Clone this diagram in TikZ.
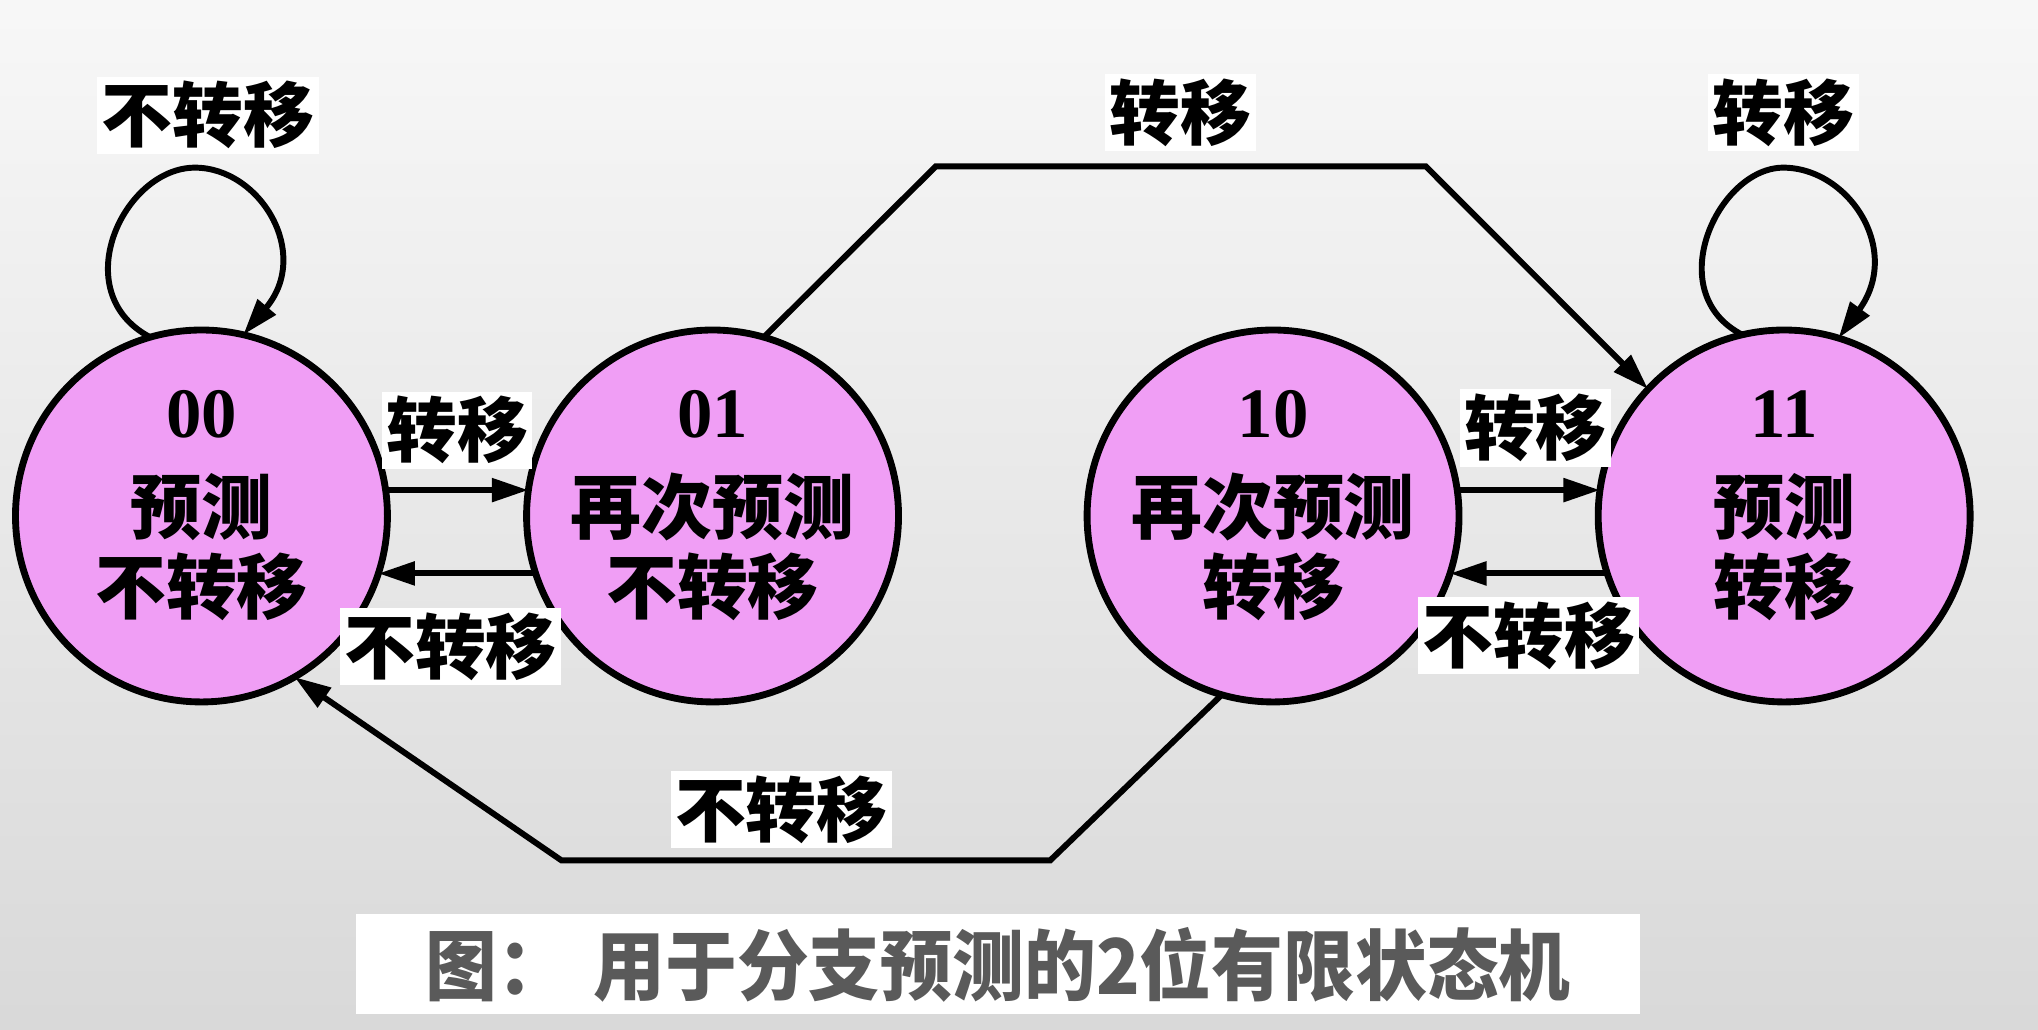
\documentclass[tikz,border=0pt]{standalone}
\usepackage{fontspec}
\newfontfamily\cjk{Noto Sans CJK SC}
\newfontfamily\numfont{Liberation Serif}
\usetikzlibrary{positioning,arrows.meta}
\definecolor{statepink}{RGB}{240,158,245}
\definecolor{capgray}{RGB}{90,90,90}

\begin{document}
\begin{tikzpicture}[
    x=0.01cm, y=-0.01cm,
    node distance=1.07cm,
    state/.style={circle, draw, line width=1.5pt, fill=statepink, minimum size=2.86cm, inner sep=0pt, outer sep=0pt},
    stext/.style={align=center, yshift=0.08cm, font=\fontsize{15.5}{17.6}\selectfont\bfseries\cjk},
    lbl/.style={fill=white, inner sep=1pt, font=\fontsize{15.5}{17.6}\selectfont\bfseries\cjk},
    arrow/.style={-{Triangle[length=8pt,width=5pt]}, line width=1.3pt},
  ]
  % background
  \fill[top color=black!3, bottom color=black!15] (0,0) rectangle (1568,792);
  \useasboundingbox (0,0) rectangle (1568,792);

  % states
  \node[state, label={[stext]center:{{\numfont 00}\\[3.4pt]预测\\不转移}}] (s00) at (155,397) {};
  \node[state, right=of s00, label={[stext]center:{{\numfont 01}\\[3.4pt]再次预测\\不转移}}] (s01) {};
  \node[state, right=1.45cm of s01, label={[stext]center:{{\numfont 10}\\[3.4pt]再次预测\\转移}}] (s10) {};
  \node[state, right=of s10, label={[stext]center:{{\numfont 11}\\[3.4pt]预测\\转移}}] (s11) {};

  % bend points
  \coordinate (tl) at (720,128);
  \coordinate (tr) at (1097,128);
  \coordinate (bl) at (432,662);
  \coordinate (br) at (808,662);
  \coordinate (top00) at (150,129);
  \coordinate (top11) at (1372,129);

  % neighbours
  \draw[arrow] (s00.8) -- node[lbl, above=4pt] {转移} (s01.172);
  \draw[arrow] (s01.198) -- node[lbl, below=7pt, xshift=-0.05cm] {不转移} (s00.-18);
  \draw[arrow] (s10.8) -- node[lbl, above=4.5pt, xshift=0.05cm] {转移} (s11.172);
  \draw[arrow] (s11.198) -- node[lbl, below=4.5pt] {不转移} (s10.-18);

  % self loops
  \draw[arrow] (s00.106) .. controls (50,225) and (95,129) .. (top00)
    node[lbl, above=2.4pt, xshift=0.1cm] {不转移}
    .. controls (200,129) and (240,195) .. (s00.77);
  \draw[arrow] (s11.103) .. controls (1277,225) and (1322,129) .. (top11)
    node[lbl, above=3pt] {转移}
    .. controls (1422,129) and (1464,192) .. (s11.73);

  % long edges
  \draw[arrow] (s01.74) -- (tl) -- node[lbl, above=2.7pt] {转移} (tr) -- (s11.137);
  \draw[arrow] (s10.254) -- (br) -- node[lbl, above=2pt, pos=0.55] {不转移} (bl) -- (s00.300);

  % caption
  \node[fill=white, minimum width=9.87cm, minimum height=0.77cm, inner sep=0pt, text=capgray, font=\fontsize{16.8}{18}\selectfont\bfseries\cjk] (cap) at (768,742) {\scalebox{0.935}[1]{图：\hspace{0.2cm}用于分支预测的2位有限状态机}};
\end{tikzpicture}
\end{document}
